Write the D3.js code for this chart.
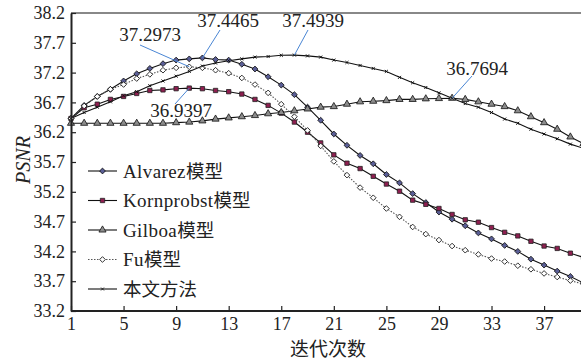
<!DOCTYPE html>
<html><head><meta charset="utf-8">
<script src="https://cdn.jsdelivr.net/npm/d3@7"></script>
<style>
body{margin:0;background:#fff;}
svg{display:block;}
text{font-family:"Liberation Serif","Noto Sans CJK SC",serif;fill:#222;}
</style></head>
<body><svg id="c" width="581" height="361"></svg>
<script>
const iterations = [1,2,3,4,5,6,7,8,9,10,11,12,13,14,15,16,17,18,19,20,21,22,23,24,25,26,27,28,29,30,31,32,33,34,35,36,37,38,39,40];
const xTicks = [1,5,9,13,17,21,25,29,33,37];
const yTicks = [33.2,33.7,34.2,34.7,35.2,35.7,36.2,36.7,37.2,37.7,38.2];
const seriesLatin = ["Alvarez","Kornprobst","Gilboa","Fu",""];
const seriesCJK = ["模型","模型","模型","模型","本文方法"];
const alvarez = [36.43,36.65,36.80,36.92,37.06,37.18,37.27,37.35,37.41,37.43,37.4465,37.42,37.41,37.34,37.26,37.13,36.99,36.83,36.62,36.40,36.17,35.98,35.81,35.67,35.49,35.35,35.17,35.02,34.86,34.74,34.63,34.51,34.41,34.30,34.20,34.07,33.97,33.87,33.78,33.67];
const kornprobst = [36.43,36.61,36.67,36.75,36.80,36.85,36.90,36.91,36.93,36.9397,36.93,36.90,36.88,36.84,36.75,36.65,36.52,36.37,36.20,36.02,35.82,35.68,35.59,35.46,35.33,35.21,35.06,34.99,34.92,34.82,34.73,34.69,34.60,34.52,34.46,34.37,34.29,34.25,34.17,34.10];
const gilboa = [36.35,36.35,36.35,36.35,36.35,36.35,36.35,36.35,36.36,36.37,36.39,36.42,36.44,36.46,36.48,36.51,36.53,36.56,36.59,36.62,36.63,36.67,36.71,36.72,36.73,36.75,36.75,36.76,36.765,36.7694,36.75,36.71,36.67,36.63,36.56,36.46,36.36,36.25,36.12,36.01];
const fu = [36.43,36.64,36.80,36.92,37.00,37.10,37.17,37.24,37.28,37.2973,37.28,37.24,37.19,37.11,37.00,36.86,36.67,36.46,36.23,35.97,35.71,35.48,35.27,35.10,34.92,34.78,34.61,34.49,34.39,34.29,34.22,34.15,34.08,34.03,33.96,33.90,33.83,33.77,33.71,33.65];
const proposed = [36.43,36.53,36.62,36.71,36.81,36.88,36.98,37.06,37.14,37.22,37.31,37.36,37.40,37.43,37.46,37.47,37.49,37.4939,37.48,37.46,37.41,37.37,37.32,37.27,37.22,37.12,37.03,36.95,36.86,36.77,36.68,36.62,36.53,36.42,36.35,36.25,36.17,36.09,36.00,35.93];
// annotated points: series index, iteration, label
const annSeries = [3,0,4,1,2];
const annIter = [10,11,18,10,30];
const annLabels = ["37.2973","37.4465","37.4939","36.9397","36.7694"];

// ---- styling / layout ----
const annLayout = [
  {tx:150,ty:41,lx:140,ly:45},
  {tx:228,ty:27,lx:220,ly:30},
  {tx:313,ty:27,lx:308,ly:30},
  {tx:181,ty:117,lx:175,ly:104},
  {tx:477,ty:75,lx:472,ly:76}
];
const styles = [
  {sym:d3.symbolSquare,rot:45,size:17,fill:"#5a5e96",stroke:"#111",dash:null,lc:"#111"},
  {sym:d3.symbolSquare,rot:0,size:19,fill:"#8e1f50",stroke:"#222",dash:null,lc:"#111"},
  {sym:d3.symbolTriangle,rot:0,size:22,fill:"#8c8c8c",stroke:"#111",dash:null,lc:"#111"},
  {sym:d3.symbolSquare,rot:45,size:16,fill:"#fff",stroke:"#111",dash:"1.5,1.5",lc:"#555"},
  {sym:d3.symbolTimes||d3.symbolCross,rot:0,size:7,fill:"#111",stroke:"#111",dash:null,lc:"#111"}
];
const allSeries = [alvarez,kornprobst,gilboa,fu,proposed];

const svg = d3.select("#c");
const L=71,T=13,B=311;
const x = d3.scaleLinear().domain([1,40]).range([L,583.5]);
const y = d3.scaleLinear().domain([33.2,38.2]).range([B,T]);

svg.append("defs").append("clipPath").attr("id","clip").append("rect")
  .attr("x",L-6).attr("y",T-6).attr("width",581-L+6).attr("height",B-T+12);

// top border
svg.append("line").attr("x1",L).attr("x2",581).attr("y1",T).attr("y2",T)
  .attr("stroke","#888").attr("stroke-width",2);

const plot = svg.append("g").attr("clip-path","url(#clip)");
const line = d3.line().x((d,i)=>x(iterations[i])).y(d=>y(d));

allSeries.forEach((s,k)=>{
  const st = styles[k];
  plot.append("path").datum(s).attr("d",line).attr("fill","none")
    .attr("stroke",st.lc).attr("stroke-width",1.1)
    .attr("stroke-dasharray",st.dash);
});
allSeries.forEach((s,k)=>{
  const st = styles[k];
  const sym = d3.symbol().type(st.sym).size(st.size);
  plot.selectAll(null).data(s).enter().append("path")
    .attr("d",sym)
    .attr("transform",(d,i)=>`translate(${x(iterations[i])},${y(d)}) rotate(${st.rot})`)
    .attr("fill",st.fill).attr("stroke",st.stroke).attr("stroke-width",k===4?1:0.8);
});

// axes
const ya = d3.axisLeft(y).tickValues(yTicks).tickFormat(d3.format(".1f")).tickSizeInner(-5).tickSizeOuter(0).tickPadding(6);
const gy = svg.append("g").attr("transform",`translate(${L},0)`).call(ya);
const xa = d3.axisBottom(x).tickValues(xTicks).tickFormat(d3.format("d")).tickSizeInner(-5).tickSizeOuter(0).tickPadding(6);
const gx = svg.append("g").attr("transform",`translate(0,${B})`).call(xa);
[gx,gy].forEach(g=>{
  g.select(".domain").attr("stroke","#222").attr("stroke-width",2);
  g.selectAll(".tick line").attr("stroke","#222").attr("stroke-width",1.2);
  g.selectAll(".tick text").attr("font-size",18).attr("font-family","Liberation Serif").attr("fill","#222");
});
gx.select(".domain").attr("d",`M${L},0H581`);

// axis titles
svg.append("text").attr("x",328).attr("y",356).attr("text-anchor","middle")
  .attr("font-size",19).attr("font-family","Noto Sans CJK SC").text("迭代次数");
svg.append("text").attr("transform","translate(30,160) rotate(-90)").attr("text-anchor","middle")
  .attr("font-size",20).attr("font-style","italic").text("PSNR");

// annotations
annSeries.forEach((si,k)=>{
  const it = annIter[k], v = allSeries[si][iterations.indexOf(it)];
  const a = annLayout[k];
  svg.append("line").attr("x1",a.lx).attr("y1",a.ly).attr("x2",x(it)).attr("y2",y(v))
    .attr("stroke","#4a86d4").attr("stroke-width",1);
  svg.append("text").attr("x",a.tx).attr("y",a.ty).attr("text-anchor","middle")
    .attr("font-size",19).text(annLabels[k]);
});

// legend
const lg = svg.append("g");
seriesLatin.forEach((n,k)=>{
  const st = styles[k];
  const yy = 171 + k*29.5;
  lg.append("line").attr("x1",88).attr("x2",117).attr("y1",yy).attr("y2",yy)
    .attr("stroke",st.lc).attr("stroke-width",1.1).attr("stroke-dasharray",st.dash);
  lg.append("path").attr("d",d3.symbol().type(st.sym).size(st.size))
    .attr("transform",`translate(102.5,${yy}) rotate(${st.rot})`).attr("fill",st.fill).attr("stroke",st.stroke).attr("stroke-width",0.8);
  const t = lg.append("text").attr("x",123).attr("y",yy+6.5);
  if(n) t.append("tspan").attr("font-size",19).attr("letter-spacing",0.4).text(n);
  t.append("tspan").attr("font-size",18.5).attr("font-family","Noto Sans CJK SC").text(seriesCJK[k]);
});
</script></body></html>
